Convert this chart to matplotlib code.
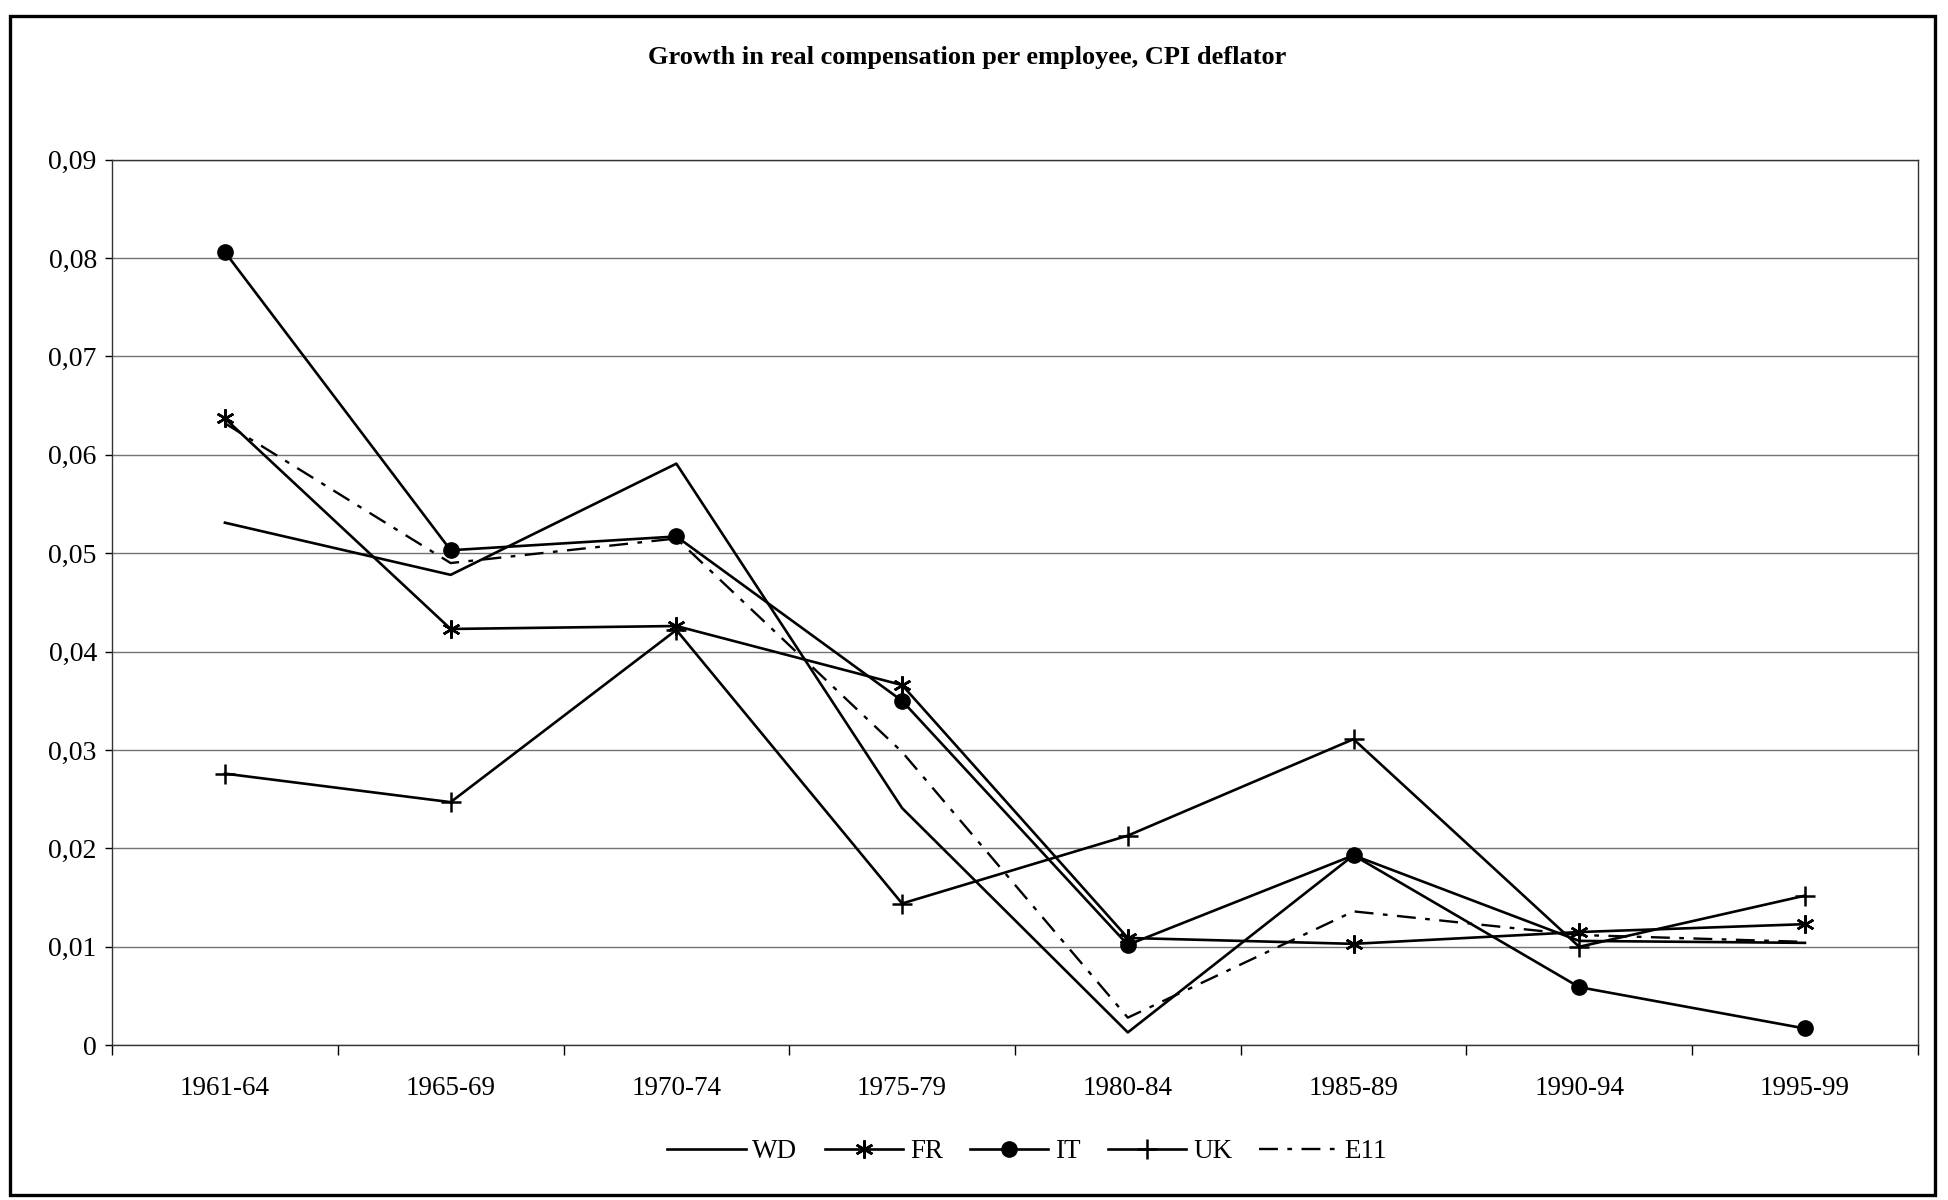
# Growth in real compensation per employee, CPI deflator
import matplotlib
matplotlib.use('Agg')
import matplotlib.pyplot as plt
from matplotlib.ticker import FuncFormatter, FixedLocator
from matplotlib.patches import Rectangle

plt.rcParams['font.family'] = ['Liberation Serif', 'DejaVu Serif']

# periodi
periods = ['1961-64', '1965-69', '1970-74', '1975-79', '1980-84', '1985-89', '1990-94', '1995-99']

# serie
wd = [0.0531, 0.0478, 0.0591, 0.0241, 0.0013, 0.0193, 0.0106, 0.0104]
fr = [0.0637, 0.0423, 0.0426, 0.0366, 0.0109, 0.0103, 0.0115, 0.0123]
it = [0.0806, 0.0503, 0.0517, 0.0350, 0.0102, 0.0193, 0.0059, 0.0017]
uk = [0.0276, 0.0247, 0.0422, 0.0144, 0.0213, 0.0311, 0.0100, 0.0152]
e11 = [0.0632, 0.0490, 0.0515, 0.0298, 0.0028, 0.0136, 0.0112, 0.0105]

fig = plt.figure(figsize=(19.49, 12), dpi=100)
ax = fig.add_axes([0.0575, 0.129, 0.9265, 0.738])

x = range(len(periods))
ax.plot(x, wd, color='black', lw=1.9, label='WD')
ax.plot(x, fr, color='black', lw=1.9, marker=(6, 2, 0), ms=13, mew=1.8, label='FR')
ax.plot(x, it, color='black', lw=1.9, marker='o', ms=11, label='IT')
ax.plot(x, uk, color='black', lw=1.9, marker='+', ms=15, mew=1.8, label='UK')
ax.plot(x, e11, color='black', lw=1.7, dashes=(8, 4, 2, 4), label='E11')

ax.set_xlim(-0.5, len(periods) - 0.5)
ax.set_ylim(0, 0.09)
ax.set_yticks([i / 100 for i in range(10)])
ax.yaxis.set_major_formatter(FuncFormatter(lambda v, p: '0' if abs(v) < 1e-9 else ('%.2f' % v).replace('.', ',')))
ax.yaxis.grid(True, color='0.45', lw=1.0)
ax.set_axisbelow(True)

# tacche tra le categorie, etichette al centro
ax.set_xticks(list(x))
ax.set_xticklabels(periods)
ax.xaxis.set_minor_locator(FixedLocator([i + 0.5 for i in range(-1, len(periods))]))
ax.tick_params(axis='x', which='major', length=0, pad=22, labelsize=19.5)
ax.tick_params(axis='x', which='minor', length=7, width=1, direction='out')
ax.tick_params(axis='y', length=5, width=1, pad=6, labelsize=20)
for s in ax.spines.values():
    s.set_linewidth(1.0)
    s.set_color('0.2')

fig.text(0.4965, 0.952, 'Growth in real compensation per employee, CPI deflator',
         ha='center', va='center', fontsize=19, fontweight='bold')

fig.legend(loc='center', bbox_to_anchor=(0.527, 0.04), ncol=5, frameon=False,
           fontsize=19.5, handlelength=2.9, columnspacing=1.0, handletextpad=0.25)

# cornice esterna
fig.patches.append(Rectangle((0.005, 0.004), 0.988, 0.983, transform=fig.transFigure,
                             fill=False, edgecolor='black', lw=2.4))

plt.savefig('out.png', dpi=100)
